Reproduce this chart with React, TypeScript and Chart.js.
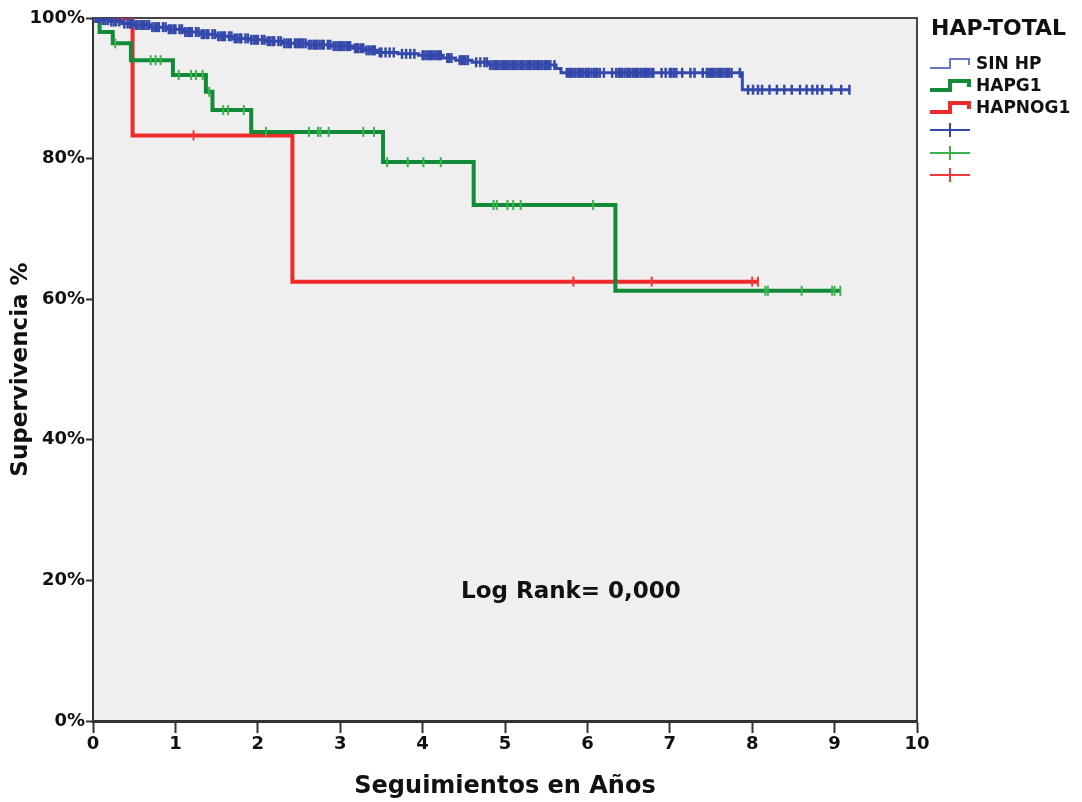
import React, { useEffect, useRef } from 'react';
import { Chart, registerables } from 'chart.js';

Chart.register(...registerables);

// ---------- data ----------
const xTickValues = [0, 1, 2, 3, 4, 5, 6, 7, 8, 9, 10];
const yTickValues = [0, 20, 40, 60, 80, 100];

const groupNames = ['SIN HP', 'HAPG1', 'HAPNOG1'];
const legendTitle = 'HAP-TOTAL';
const annotationText = 'Log Rank= 0,000';
const xTitle = 'Seguimientos en Años';
const yTitle = 'Supervivencia %';

// SIN HP: event times (years) and survival (%) after each event
const sinHpTimes = [0, 0.1, 0.2, 0.35, 0.5, 0.7, 0.9, 1.1, 1.3, 1.5, 1.7, 1.9, 2.1, 2.3, 2.6, 2.9, 3.15, 3.3, 3.45, 3.7, 3.95, 4.25, 4.4, 4.6, 4.8, 5.62, 5.68, 7.88];
const sinHpSurv = [100, 99.7, 99.5, 99.2, 99.0, 98.7, 98.4, 98.0, 97.7, 97.4, 97.1, 96.9, 96.7, 96.4, 96.2, 96.0, 95.7, 95.4, 95.1, 94.9, 94.7, 94.3, 94.0, 93.7, 93.3, 92.8, 92.2, 89.8];
const sinHpCensored = [0.03, 0.05, 0.08, 0.12, 0.15, 0.18, 0.22, 0.25, 0.28, 0.32, 0.38, 0.42, 0.45, 0.48, 0.52, 0.55, 0.58, 0.6, 0.62, 0.65, 0.68, 0.72, 0.75, 0.78, 0.8, 0.85, 0.88, 0.92, 0.95, 0.98, 1.0, 1.05, 1.08, 1.12, 1.15, 1.18, 1.2, 1.25, 1.28, 1.32, 1.35, 1.38, 1.4, 1.45, 1.48, 1.52, 1.55, 1.58, 1.6, 1.65, 1.68, 1.72, 1.75, 1.78, 1.8, 1.85, 1.88, 1.92, 1.95, 1.98, 2.0, 2.05, 2.08, 2.12, 2.15, 2.18, 2.2, 2.25, 2.28, 2.32, 2.35, 2.38, 2.4, 2.45, 2.48, 2.5, 2.52, 2.55, 2.58, 2.62, 2.65, 2.68, 2.7, 2.72, 2.75, 2.78, 2.8, 2.85, 2.88, 2.92, 2.95, 2.98, 3.0, 3.02, 3.05, 3.08, 3.1, 3.12, 3.18, 3.2, 3.22, 3.25, 3.28, 3.32, 3.35, 3.38, 3.4, 3.42, 3.48, 3.5, 3.55, 3.6, 3.65, 3.75, 3.8, 3.85, 3.9, 4.0, 4.02, 4.05, 4.08, 4.1, 4.12, 4.15, 4.18, 4.2, 4.22, 4.3, 4.32, 4.35, 4.45, 4.48, 4.5, 4.52, 4.55, 4.65, 4.7, 4.75, 4.78, 4.82, 4.85, 4.88, 4.9, 4.92, 4.95, 4.98, 5.0, 5.02, 5.05, 5.08, 5.1, 5.12, 5.15, 5.18, 5.2, 5.22, 5.25, 5.28, 5.3, 5.32, 5.35, 5.38, 5.4, 5.42, 5.45, 5.48, 5.5, 5.52, 5.55, 5.6, 5.75, 5.78, 5.8, 5.82, 5.85, 5.88, 5.9, 5.92, 5.95, 5.98, 6.0, 6.02, 6.05, 6.08, 6.1, 6.12, 6.15, 6.2, 6.3, 6.35, 6.38, 6.4, 6.42, 6.45, 6.48, 6.5, 6.52, 6.55, 6.58, 6.6, 6.62, 6.65, 6.68, 6.7, 6.72, 6.75, 6.78, 6.8, 6.9, 6.95, 7.0, 7.02, 7.05, 7.08, 7.15, 7.25, 7.3, 7.4, 7.45, 7.48, 7.5, 7.52, 7.55, 7.58, 7.6, 7.62, 7.65, 7.68, 7.7, 7.72, 7.75, 7.85, 7.95, 8.01, 8.07, 8.12, 8.21, 8.3, 8.39, 8.48, 8.58, 8.66, 8.73, 8.79, 8.85, 8.96, 9.08, 9.18];

// HAPG1
const hapg1Times = [0, 0.08, 0.24, 0.46, 0.97, 1.37, 1.45, 1.92, 3.52, 4.62, 6.34];
const hapg1Surv = [100, 98.0, 96.4, 94.0, 91.9, 89.5, 86.9, 83.8, 79.5, 73.4, 61.2];
const hapg1Censored = [0.27, 0.7, 0.76, 0.82, 1.04, 1.19, 1.25, 1.33, 1.41, 1.58, 1.64, 1.83, 2.1, 2.62, 2.73, 2.76, 2.86, 3.28, 3.41, 3.57, 3.82, 4.01, 4.22, 4.86, 4.9, 5.03, 5.1, 5.19, 6.07, 8.16, 8.19, 8.6, 8.97, 9.0, 9.07];

// HAPNOG1
const hapnog1Times = [0, 0.48, 2.42];
const hapnog1Surv = [100, 83.3, 62.5];
const hapnog1Censored = [1.22, 5.83, 6.78, 8.0, 8.07];

// ---------- style ----------
const FONT = "'DejaVu Sans', 'Liberation Sans', sans-serif";
const blueLine = '#3449aa';
const blueLegend = '#6678c8';
const greenLine = '#128a3a';
const greenMark = '#38b44a';
const redLine = '#ef2a2a';
const redMark = '#ef3a3a';

function stepPoints(times: number[], surv: number[], censored: number[]) {
  const pts = times.map((t, i) => ({ x: t, y: surv[i] }));
  const end = Math.max(times[times.length - 1], ...censored);
  pts.push({ x: end, y: surv[surv.length - 1] });
  return pts;
}

function survivalAt(times: number[], surv: number[], t: number) {
  let s = surv[0];
  for (let i = 0; i < times.length; i++) if (times[i] <= t) s = surv[i];
  return s;
}

function censorPoints(times: number[], surv: number[], censored: number[]) {
  return censored.map((c) => ({ x: c, y: survivalAt(times, surv, c) }));
}

const backgroundPlugin = {
  id: 'kmBackground',
  beforeDraw(chart: any) {
    const { ctx, chartArea } = chart;
    ctx.save();
    ctx.fillStyle = '#ffffff';
    ctx.fillRect(0, 0, chart.width, chart.height);
    ctx.fillStyle = '#efefef';
    ctx.fillRect(chartArea.left, chartArea.top, chartArea.right - chartArea.left, chartArea.bottom - chartArea.top);
    ctx.strokeStyle = '#444444';
    ctx.lineWidth = 2;
    ctx.beginPath();
    ctx.moveTo(chartArea.left, chartArea.top);
    ctx.lineTo(chartArea.right, chartArea.top);
    ctx.lineTo(chartArea.right, chartArea.bottom);
    ctx.stroke();
    ctx.restore();
  },
};

const legendPlugin = {
  id: 'kmLegend',
  afterDraw(chart: any) {
    const { ctx, scales } = chart;
    ctx.save();
    ctx.fillStyle = '#111111';
    ctx.textBaseline = 'middle';
    ctx.textAlign = 'left';
    ctx.font = `bold 22px ${FONT}`;
    ctx.fillText(legendTitle, 931, 29);

    const stepIcon = (y: number, color: string, width: number) => {
      ctx.strokeStyle = color;
      ctx.lineWidth = width;
      ctx.lineJoin = 'miter';
      ctx.beginPath();
      ctx.moveTo(930, y + 4);
      ctx.lineTo(950, y + 4);
      ctx.lineTo(950, y - 5);
      ctx.lineTo(969, y - 5);
      ctx.lineTo(969, y + 1);
      ctx.stroke();
    };
    const plusIcon = (y: number, color: string) => {
      ctx.strokeStyle = color;
      ctx.lineWidth = 2;
      ctx.beginPath();
      ctx.moveTo(930, y);
      ctx.lineTo(970, y);
      ctx.moveTo(950, y - 7);
      ctx.lineTo(950, y + 7);
      ctx.stroke();
    };
    stepIcon(64, blueLegend, 2);
    stepIcon(86, greenLine, 4);
    stepIcon(108, redLine, 4);
    ctx.font = `bold 17px ${FONT}`;
    ctx.fillStyle = '#111111';
    ctx.fillText(groupNames[0], 976, 65);
    ctx.fillText(groupNames[1], 976, 87);
    ctx.fillText(groupNames[2], 976, 109);
    plusIcon(130, blueLine);
    plusIcon(153, greenMark);
    plusIcon(175, redMark);

    // annotation
    ctx.font = `bold 23px ${FONT}`;
    ctx.textAlign = 'center';
    ctx.fillText(annotationText, scales.x.getPixelForValue(5.8), scales.y.getPixelForValue(18.4));
    ctx.restore();
  },
};

export default function App() {
  const canvasRef = useRef<HTMLCanvasElement | null>(null);

  useEffect(() => {
    document.body.style.margin = '0';
    const canvas = canvasRef.current;
    if (!canvas) return;

    const markDataset = (label: string, data: any[], color: string, order: number, width: number) => ({
      type: 'scatter' as const,
      label,
      data,
      showLine: false,
      pointStyle: 'line',
      rotation: 90,
      pointRadius: 5,
      pointBorderWidth: width,
      pointBorderColor: color,
      pointBackgroundColor: color,
      borderColor: color,
      backgroundColor: color,
      order,
    });

    const chart = new Chart(canvas, {
      type: 'line',
      data: {
        datasets: [
          {
            label: groupNames[0],
            data: stepPoints(sinHpTimes, sinHpSurv, sinHpCensored),
            stepped: 'before',
            borderColor: blueLine,
            borderWidth: 3,
            pointRadius: 0,
            fill: false,
            order: 2,
          } as any,
          {
            label: groupNames[1],
            data: stepPoints(hapg1Times, hapg1Surv, hapg1Censored),
            stepped: 'before',
            borderColor: greenLine,
            borderWidth: 4,
            pointRadius: 0,
            fill: false,
            order: 4,
          } as any,
          {
            label: groupNames[2],
            data: stepPoints(hapnog1Times, hapnog1Surv, hapnog1Censored),
            stepped: 'before',
            borderColor: redLine,
            borderWidth: 4,
            pointRadius: 0,
            fill: false,
            order: 6,
          } as any,
          markDataset(groupNames[0] + ' censurado', censorPoints(sinHpTimes, sinHpSurv, sinHpCensored), blueLine, 1, 2.5) as any,
          markDataset(groupNames[1] + ' censurado', censorPoints(hapg1Times, hapg1Surv, hapg1Censored), greenMark, 3, 2) as any,
          markDataset(groupNames[2] + ' censurado', censorPoints(hapnog1Times, hapnog1Surv, hapnog1Censored), redMark, 5, 2) as any,
        ],
      },
      options: {
        responsive: false,
        animation: false,
        events: [],
        layout: { padding: { left: 0, top: 18, right: 165, bottom: 0 } },
        plugins: {
          legend: { display: false },
          tooltip: { enabled: false },
          title: { display: false },
        },
        scales: {
          x: {
            type: 'linear',
            min: 0,
            max: 10,
            afterBuildTicks: (scale: any) => {
              scale.ticks = xTickValues.map((v) => ({ value: v }));
            },
            afterFit: (scale: any) => {
              scale.height = 81;
            },
            ticks: {
              color: '#111111',
              font: { family: FONT, size: 18, weight: 'bold' },
              padding: 1,
              maxRotation: 0,
              autoSkip: false,
            },
            grid: {
              drawOnChartArea: false,
              drawTicks: true,
              tickLength: 12,
              tickWidth: 2,
              tickColor: '#333333',
            },
            border: { display: true, color: '#333333', width: 3 },
            title: {
              display: true,
              text: xTitle,
              color: '#111111',
              font: { family: FONT, size: 24, weight: 'bold' },
              padding: { top: 0, bottom: 1 },
            },
          },
          y: {
            type: 'linear',
            min: 0,
            max: 100,
            afterBuildTicks: (scale: any) => {
              scale.ticks = yTickValues.map((v) => ({ value: v }));
            },
            afterFit: (scale: any) => {
              scale.width = 93;
            },
            ticks: {
              color: '#111111',
              font: { family: FONT, size: 18, weight: 'bold' },
              padding: 1,
              callback: (v: any) => `${v}%`,
            },
            grid: {
              drawOnChartArea: false,
              drawTicks: true,
              tickLength: 7,
              tickWidth: 2,
              tickColor: '#333333',
            },
            border: { display: true, color: '#333333', width: 2 },
            title: {
              display: true,
              text: yTitle,
              color: '#111111',
              font: { family: FONT, size: 23, weight: 'bold' },
              padding: { top: 7, bottom: 0 },
            },
          },
        },
      },
      plugins: [backgroundPlugin, legendPlugin],
    } as any);

    return () => {
      chart.destroy();
    };
  }, []);

  return (
    <div style={{ width: 1082, height: 802 }}>
      <canvas ref={canvasRef} width={1082} height={802} />
    </div>
  );
}
